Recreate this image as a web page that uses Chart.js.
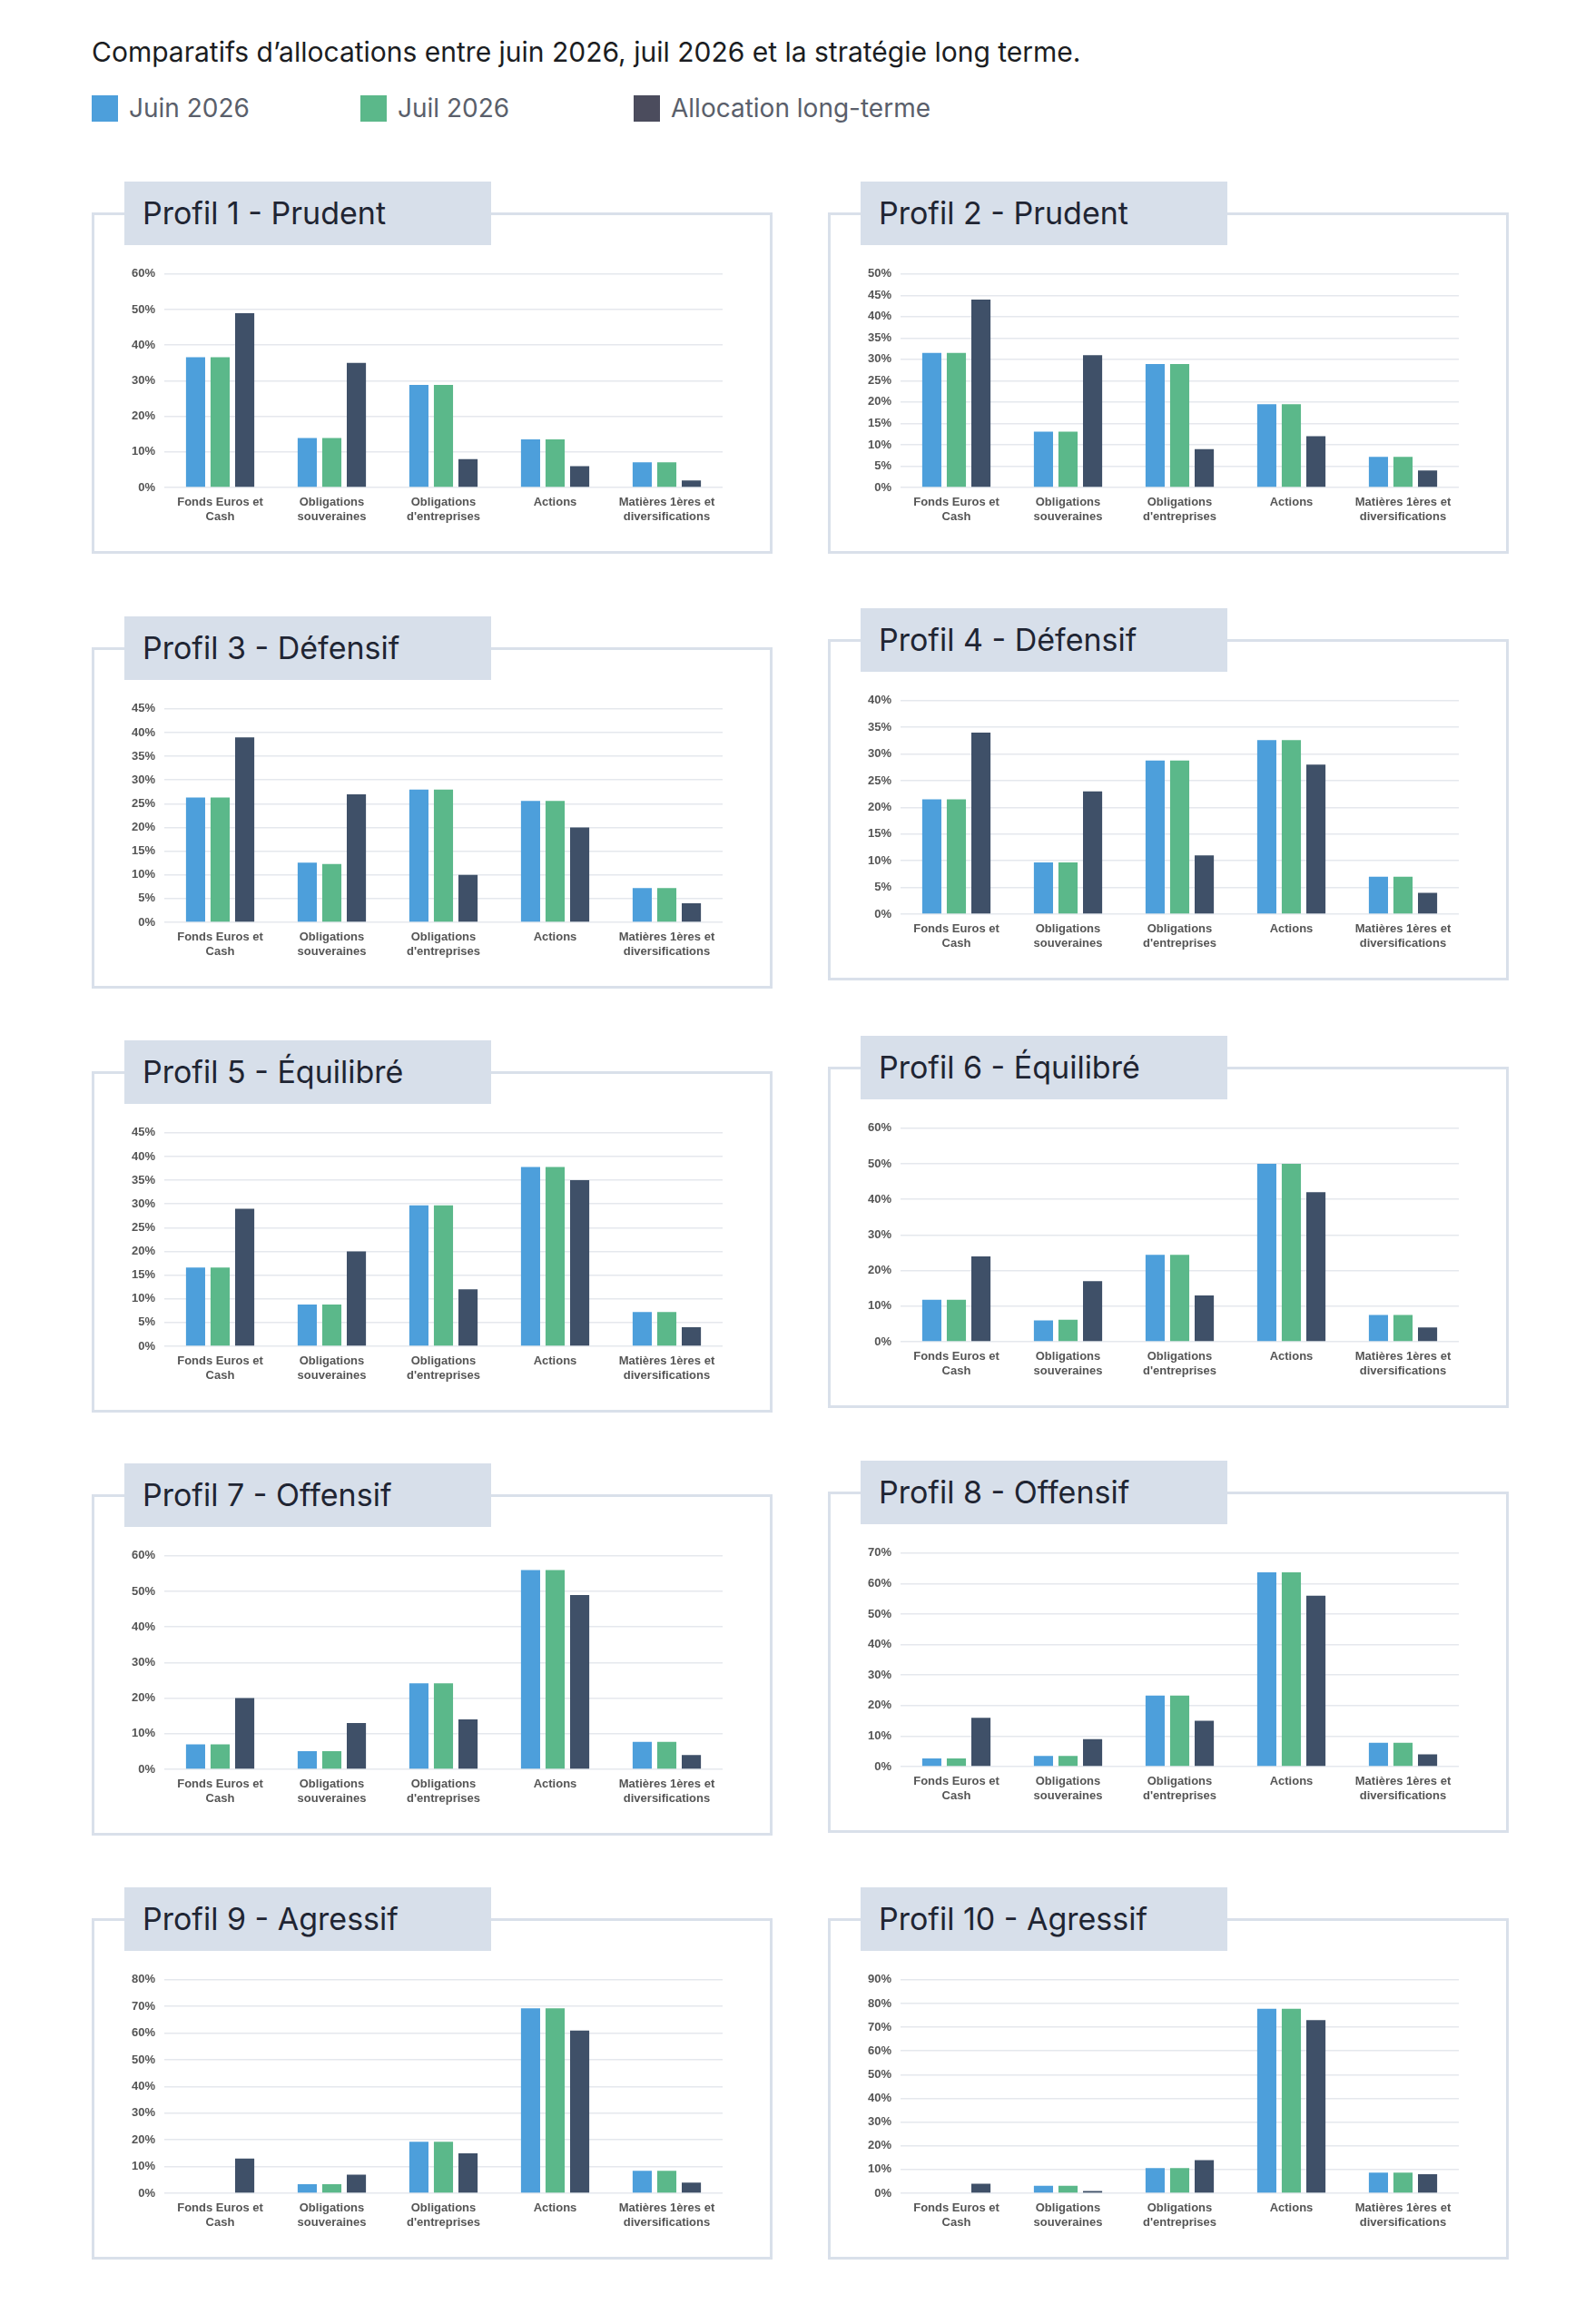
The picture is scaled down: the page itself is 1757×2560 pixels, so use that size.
<!DOCTYPE html>
<html lang="fr">
<head>
<meta charset="utf-8">
<title>Comparatifs d'allocations</title>
<script src="https://cdn.jsdelivr.net/npm/chart.js@4.4.1/dist/chart.umd.min.js"></script>
<style>
  html, body { margin:0; padding:0; background:#fff; }
  body { width:1757px; height:2560px; position:relative; font-family:Inter, "Noto Sans", sans-serif; overflow:hidden; }
  .title { position:absolute; left:101px; top:39px; font-size:30px; color:#1b1d22; white-space:nowrap; }
  .legend { position:absolute; top:104px; height:30px; display:flex; align-items:center; font-size:28px; color:#5a5f6b; white-space:nowrap; }
  .legend i { display:inline-block; width:29px; height:29px; margin-right:12px; }
  .panel { position:absolute; width:750px; height:376px; box-sizing:border-box; border:3px solid #d9e0ea; background:#fff; }
  .tab { position:absolute; left:33px; top:-37px; width:404px; height:70px; background:#d7dfea; box-sizing:border-box; padding-left:20px; line-height:70px; font-size:34px; font-weight:400; color:#1f2533; white-space:nowrap; }
  .panel canvas { position:absolute; left:7px; top:47px; }
</style>
</head>
<body>
<div class="title">Comparatifs d’allocations entre juin 2026, juil 2026 et la stratégie long terme.</div>
<div class="legend" style="left:101px"><i style="background:#4d9fdb"></i>Juin 2026</div>
<div class="legend" style="left:397px"><i style="background:#5bb88a"></i>Juil 2026</div>
<div class="legend" style="left:698px"><i style="background:#4b4c5d"></i>Allocation long-terme</div>
<div id="panels"></div>

<script>
// categories (x axis)
const categories = [
  ['Fonds Euros et', 'Cash'],
  ['Obligations', 'souveraines'],
  ['Obligations', "d'entreprises"],
  'Actions',
  ['Matières 1ères et', 'diversifications']
];

const profileTitles = [
  'Profil 1 - Prudent', 'Profil 2 - Prudent',
  'Profil 3 - Défensif', 'Profil 4 - Défensif',
  'Profil 5 - Équilibré', 'Profil 6 - Équilibré',
  'Profil 7 - Offensif', 'Profil 8 - Offensif',
  'Profil 9 - Agressif', 'Profil 10 - Agressif'
];

const seriesNames = ['Juin 2026', 'Juil 2026', 'Allocation long-terme'];

// values in %, one row per profile
const juin2026 = [
  [36.6, 13.9, 28.8, 13.5, 7.1],
  [31.5, 13.1, 28.9, 19.5, 7.2],
  [26.3, 12.6, 28.0, 25.6, 7.2],
  [21.5, 9.7, 28.8, 32.6, 7.0],
  [16.6, 8.8, 29.7, 37.8, 7.2],
  [11.8, 6.0, 24.4, 50.0, 7.5],
  [7.0, 5.1, 24.2, 56.0, 7.7],
  [2.7, 3.5, 23.3, 63.7, 7.8],
  [0, 3.4, 19.3, 69.3, 8.4],
  [0, 3.2, 10.6, 77.8, 8.7]
];

const juil2026 = [
  [36.6, 13.9, 28.8, 13.5, 7.1],
  [31.5, 13.1, 28.9, 19.5, 7.2],
  [26.3, 12.3, 28.0, 25.6, 7.2],
  [21.5, 9.7, 28.8, 32.6, 7.0],
  [16.6, 8.8, 29.7, 37.8, 7.2],
  [11.8, 6.2, 24.4, 50.0, 7.5],
  [7.0, 5.1, 24.2, 56.0, 7.7],
  [2.7, 3.5, 23.3, 63.7, 7.8],
  [0, 3.4, 19.3, 69.3, 8.4],
  [0, 3.2, 10.6, 77.8, 8.7]
];

const longTerme = [
  [49, 35, 8, 6, 2],
  [44, 31, 9, 12, 4],
  [39, 27, 10, 20, 4],
  [34, 23, 11, 28, 4],
  [29, 20, 12, 35, 4],
  [24, 17, 13, 42, 4],
  [20, 13, 14, 49, 4],
  [16, 9, 15, 56, 4],
  [13, 7, 15, 61, 4],
  [4, 1, 14, 73, 8]
];

// y axis ticks: max and step per profile
const yMax  = [60, 50, 45, 40, 45, 60, 60, 70, 80, 90];
const yStep = [10, 5, 5, 5, 5, 10, 10, 10, 10, 10];

const COLORS = ['#4d9fdb', '#5bb88a', '#3f5068'];

// panel placement (box left / top)
const panelLeft = [101, 912];
const panelTop  = [234, 234, 713, 704, 1180, 1175, 1646, 1643, 2113, 2113];

Chart.defaults.font.family = '"Liberation Sans", Arial, sans-serif';
Chart.defaults.color = '#555';

const wrap = document.getElementById('panels');
profileTitles.forEach((title, i) => {
  const panel = document.createElement('div');
  panel.className = 'panel';
  panel.style.left = panelLeft[i % 2] + 'px';
  panel.style.top = panelTop[i] + 'px';
  panel.innerHTML = `<div class="tab">${title}</div><canvas width="692" height="298"></canvas>`;
  wrap.appendChild(panel);

  const series = [juin2026[i], juil2026[i], longTerme[i]];
  new Chart(panel.querySelector('canvas'), {
    type: 'bar',
    data: {
      labels: categories,
      datasets: series.map((vals, k) => ({
        label: seriesNames[k],
        data: vals,
        backgroundColor: COLORS[k],
        borderWidth: 0,
        categoryPercentage: 0.66,
        barPercentage: 0.78
      }))
    },
    options: {
      responsive: false,
      animation: false,
      devicePixelRatio: 1,
      layout: { padding: { top: 16, right: 7, left: 0, bottom: 0 } },
      plugins: { legend: { display: false }, tooltip: { enabled: false } },
      scales: {
        x: {
          grid: { display: false, drawTicks: false },
          border: { display: false },
          ticks: { font: { size: 13, weight: 'bold' }, color: '#555', padding: 9, maxRotation: 0, autoSkip: false },
          afterFit: s => { s.height = 45; }
        },
        y: {
          min: 0, max: yMax[i],
          grid: { color: '#e5e8ed', lineWidth: 1.5, drawTicks: false },
          border: { display: false },
          ticks: { stepSize: yStep[i], callback: v => v + '%', font: { size: 13, weight: 'bold' }, color: '#555', padding: 10 },
          afterFit: s => { s.width = 70; }
        }
      }
    }
  });
});
</script>
</body>
</html>
